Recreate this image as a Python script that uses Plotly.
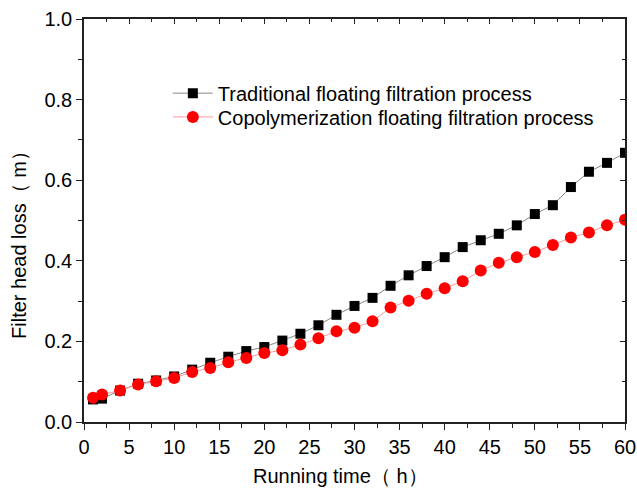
import plotly.graph_objects as go

time_h = [1, 2, 4, 6, 8, 10, 12, 14, 16, 18, 20, 22, 24, 26, 28, 30, 32, 34, 36, 38, 40,
          42, 44, 46, 48, 50, 52, 54, 56, 58, 60]
traditional = [0.056, 0.058, 0.078, 0.095, 0.103, 0.113, 0.130, 0.147, 0.162, 0.176, 0.186,
               0.202, 0.219, 0.240, 0.266, 0.288, 0.308, 0.338, 0.364, 0.387, 0.409,
               0.434, 0.451, 0.467, 0.488, 0.516, 0.538, 0.583, 0.621, 0.643, 0.668]
copolymer = [0.060, 0.068, 0.078, 0.093, 0.101, 0.109, 0.124, 0.134, 0.148, 0.159, 0.171,
             0.178, 0.192, 0.208, 0.225, 0.234, 0.250, 0.284, 0.301, 0.318, 0.332,
             0.349, 0.376, 0.395, 0.409, 0.422, 0.439, 0.458, 0.470, 0.488, 0.502]

names = ["Traditional floating filtration process",
         "Copolymerization floating filtration process"]
x_ticks = [0, 5, 10, 15, 20, 25, 30, 35, 40, 45, 50, 55, 60]
y_ticks = [0.0, 0.2, 0.4, 0.6, 0.8, 1.0]
x_title = "Running time（ h）"
y_title = "Filter head loss（ m）"

FONT = "Liberation Sans, Arial, sans-serif"

fig = go.Figure()
fig.add_trace(go.Scatter(
    x=time_h, y=traditional, name=names[0], mode="lines+markers", legend="legend",
    line=dict(color="#888888", width=1),
    marker=dict(symbol="square", size=10, color="black"),
))
fig.add_trace(go.Scatter(
    x=time_h, y=copolymer, name=names[1], mode="lines+markers", legend="legend2",
    line=dict(color="#ff9a9a", width=1),
    marker=dict(symbol="circle", size=12, color="#ff0000"),
))
# invisible trace for mirrored axes
fig.add_trace(go.Scatter(x=[0, 60], y=[0, 1], xaxis="x2", yaxis="y2",
                         mode="markers", marker=dict(opacity=0), showlegend=False,
                         hoverinfo="skip"))

axis_common = dict(showline=True, linecolor="#222222", linewidth=1.5, showgrid=False,
                   zeroline=False, tickcolor="#222222", tickwidth=1.2, automargin=False)

leg_common = dict(xanchor="left", yanchor="middle", bgcolor="rgba(0,0,0,0)",
                  font=dict(size=20, family=FONT), itemwidth=40)

fig.update_layout(
    width=637, height=489,
    margin=dict(l=84, r=12, t=19, b=67),
    paper_bgcolor="white", plot_bgcolor="white",
    font=dict(family=FONT, size=20, color="black"),
    showlegend=True,
    legend=dict(x=0.155, y=0.816, **leg_common),
    legend2=dict(x=0.155, y=0.757, **leg_common),
    xaxis=dict(range=[0, 60], tickvals=x_ticks, ticks="outside", ticklen=6,
               minor=dict(dtick=2.5, ticks="outside", ticklen=4, tickcolor="#222222"),
               tickfont=dict(size=20), **axis_common),
    yaxis=dict(range=[0, 1.0], tickvals=y_ticks, tickformat=".1f", ticks="outside", ticklen=6,
               minor=dict(dtick=0.1, ticks="outside", ticklen=4, tickcolor="#222222"),
               tickfont=dict(size=20), **axis_common),
    xaxis2=dict(range=[0, 60], overlaying="x", side="top", tickvals=x_ticks,
                ticks="inside", ticklen=5, showticklabels=False,
                minor=dict(dtick=2.5, ticks="inside", ticklen=3, tickcolor="#222222"),
                **axis_common),
    yaxis2=dict(range=[0, 1.0], overlaying="y", side="right", tickvals=y_ticks,
                ticks="inside", ticklen=5, showticklabels=False,
                minor=dict(dtick=0.1, ticks="inside", ticklen=3, tickcolor="#222222"),
                **axis_common),
    annotations=[
        dict(text=x_title, xref="paper", yref="paper", x=0.475, y=-0.135,
             xanchor="center", yanchor="middle", showarrow=False,
             font=dict(size=20, family=FONT)),
        dict(text=y_title, xref="paper", yref="paper", x=-0.120, y=0.452,
             xanchor="center", yanchor="middle", textangle=-90, showarrow=False,
             font=dict(size=20, family=FONT)),
    ],
)

fig.write_html("out.html")
